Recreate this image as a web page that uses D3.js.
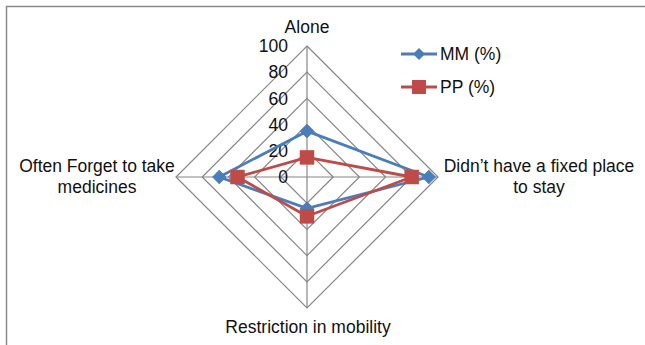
<!DOCTYPE html>
<html><head><meta charset="utf-8">
<script src="https://cdn.jsdelivr.net/npm/d3@7"></script>
<style>body{margin:0;background:#fff}svg{display:block;font-family:"Liberation Sans",Arial,sans-serif}</style>
</head><body>
<svg id="c" width="645" height="345"></svg>
<script>
const categories = ["Alone", "Didn\u2019t have a fixed place|to stay", "Restriction in mobility", "Often Forget to take|medicines"];
const seriesNames = ["MM (%)", "PP (%)"];
const mmValues = [35, 93, 24, 67];
const ppValues = [15, 80, 30, 53];
const tickValues = [0, 20, 40, 60, 80, 100];

const svg = d3.select("#c");
const cx = 307, cy = 177, R = 131;
const FS = 17.5;
const r = d3.scaleLinear().domain([0, 100]).range([0, R]);
const ang = d3.scalePoint().domain(d3.range(categories.length)).range([0, 2*Math.PI*(categories.length-1)/categories.length]);
const pt = (i, v) => [cx + r(v)*Math.sin(ang(i)), cy - r(v)*Math.cos(ang(i))];

// border
svg.append("path").attr("d", "M6.5,345 L6.5,6.5 L645,6.5").attr("fill","none").attr("stroke","#8a8a8a").attr("stroke-width",1.5);

const g = svg.append("g");
// grid rings
tickValues.filter(v => v > 0).forEach(v => {
  g.append("path").attr("d", d3.line()(categories.map((c,i)=>pt(i,v))) + "Z")
    .attr("fill","none").attr("stroke","#868686").attr("stroke-width",1.2);
});
// spokes
categories.forEach((c,i) => {
  const p = pt(i,100);
  g.append("line").attr("x1",cx).attr("y1",cy).attr("x2",p[0]).attr("y2",p[1])
    .attr("stroke","#868686").attr("stroke-width",1.2);
});
// tick labels
tickValues.forEach(v => {
  g.append("text").attr("x", cx - 19).attr("y", cy - r(v)).attr("dy","0.35em")
    .attr("text-anchor","end").attr("font-size",FS).attr("fill","#111").text(v);
});
// category labels
const labelPos = [
  {x: 307, y: 33, anchor: "middle"},
  {x: 539, y: 172, anchor: "middle"},
  {x: 308, y: 333, anchor: "middle"},
  {x: 97, y: 172, anchor: "middle"}
];
categories.forEach((c,i) => {
  const t = svg.append("text").attr("x", labelPos[i].x).attr("y", labelPos[i].y)
    .attr("text-anchor", labelPos[i].anchor).attr("font-size",FS).attr("fill","#111");
  c.split("|").forEach((line, k) => {
    t.append("tspan").attr("x", labelPos[i].x).attr("dy", k === 0 ? 0 : 21).text(line);
  });
});

const colors = ["#4A7EBB", "#BE4B48"];
const data = [mmValues, ppValues];
const lineRad = d3.lineRadial().angle((d,i)=>ang(i)).radius(d=>r(d)).curve(d3.curveLinearClosed);
data.forEach((vals, s) => {
  const sg = svg.append("g").attr("transform", `translate(${cx},${cy})`);
  sg.append("path").attr("d", lineRad(vals)).attr("fill","none").attr("stroke",colors[s]).attr("stroke-width",2.8).attr("stroke-linejoin","round");
  vals.forEach((v,i) => {
    const p = pt(i,v);
    if (s === 0) {
      svg.append("path").attr("transform",`translate(${p[0]},${p[1]}) rotate(45)`)
        .attr("d", d3.symbol().type(d3.symbolSquare).size(84)()).attr("fill",colors[s]).attr("stroke",colors[s]).attr("stroke-width",1);
    } else {
      svg.append("rect").attr("x",p[0]-7).attr("y",p[1]-7).attr("width",14).attr("height",14)
        .attr("fill",colors[s]).attr("stroke","#c0504d").attr("stroke-width",0.5);
    }
  });
});

// legend
const leg = svg.append("g");
seriesNames.forEach((n, s) => {
  const y = 54 + s*33;
  leg.append("line").attr("x1",401).attr("x2",437).attr("y1",y).attr("y2",y).attr("stroke",colors[s]).attr("stroke-width",2.8);
  if (s === 0) {
    leg.append("path").attr("transform",`translate(419,${y}) rotate(45)`)
      .attr("d", d3.symbol().type(d3.symbolSquare).size(72)()).attr("fill",colors[s]);
  } else {
    leg.append("rect").attr("x",412).attr("y",y-7).attr("width",14).attr("height",14).attr("fill",colors[s]);
  }
  leg.append("text").attr("x",440).attr("y",y).attr("dy","0.35em").attr("font-size",FS).attr("fill","#111").text(n);
});
</script>
</body></html>
